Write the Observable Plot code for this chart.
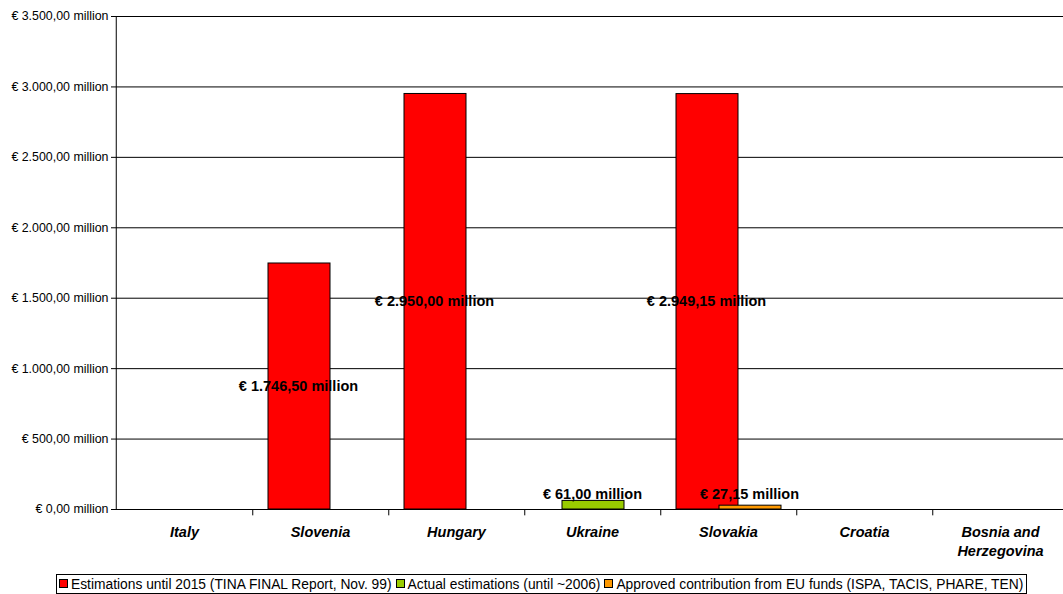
<!DOCTYPE html>
<html>
<head>
<meta charset="utf-8">
<script src="https://cdn.jsdelivr.net/npm/d3@7"></script>
<script src="https://cdn.jsdelivr.net/npm/@observablehq/plot@0.6"></script>
<style>
  html, body { margin: 0; padding: 0; background: #fff; overflow: hidden; }
  #wrap { position: relative; width: 1063px; height: 594px; font-family: "Liberation Sans", Arial, sans-serif; }
  #legend { position: absolute; left: 56px; top: 574px; border: 1px solid #000; background: #fff;
            font-size: 13.8px; line-height: 17px; padding: 1px 3px 0px 2px; white-space: nowrap; color: #000; }
  .item { display: inline-block; margin-right: 4px; }
  .item:last-child { margin-right: 0; }
  .sw { display: inline-block; width: 7px; height: 7px; border: 1px solid #000; margin-right: 3px; vertical-align: 1px; }
</style>
</head>
<body>
<div id="wrap">
  <div id="chart"></div>
  <div id="legend"></div>
</div>
<script>
const countries = ["Italy", "Slovenia", "Hungary", "Ukraine", "Slovakia", "Croatia", "Bosnia and Herzegovina"];
const countryLabels = ["Italy", "Slovenia", "Hungary", "Ukraine", "Slovakia", "Croatia", "Bosnia and\nHerzegovina"];
const seriesNames = [
  "Estimations until 2015 (TINA FINAL Report, Nov. 99)",
  "Actual estimations (until ~2006)",
  "Approved contribution from EU funds (ISPA, TACIS, PHARE, TEN)"
];
const seriesColors = ["#FF0000", "#99CC00", "#FF9900"];
const estimations = [null, 1746.5, 2950, null, 2949.15, null, null];
const actual = [null, null, null, 61, null, null, null];
const approved = [null, null, null, null, 27.15, null, null];
const yTicks = [0, 500, 1000, 1500, 2000, 2500, 3000, 3500];

const locale = d3.formatLocale({decimal: ",", thousands: ".", grouping: [3], currency: ["€ ", ""]});
const num = locale.format(",.2f");
const fmt = v => "€ " + num(v) + " million";

function rows(values, s) {
  return countries.map((c, i) => ({country: c, value: values[i], series: s})).filter(d => d.value != null);
}
const est = rows(estimations, 0);
const act = rows(actual, 1);
const app = rows(approved, 2);

const step = 136.5;
const half = step / 2;
const x0 = 114.5;

const chart = Plot.plot({
  width: 1063,
  height: 570,
  marginLeft: 115,
  marginRight: 0,
  marginTop: 16,
  marginBottom: 61,
  style: {fontFamily: "'Liberation Sans', Arial, sans-serif", fontSize: "12.4px", color: "#000", background: "#fff", overflow: "visible"},
  x: {domain: countries, range: [x0, x0 + step * countries.length], paddingInner: 0.546, paddingOuter: 0.273, axis: null},
  y: {domain: [0, 3500], ticks: yTicks, tickFormat: fmt, tickSize: 4, tickPadding: 3, label: null},
  marks: [
    Plot.ruleY(yTicks, {stroke: "#000", strokeWidth: 1}),
    Plot.ruleX([countries[0]], {x: d => d, dx: -half, y1: 0, y2: 3500, stroke: "#000"}),
    Plot.ruleX(countries, {x: d => d, dx: half, y1: 0, y2: -45, stroke: "#000"}),
    Plot.barY(est, {x: "country", y: "value", fill: seriesColors[0], stroke: "#000", strokeWidth: 1, dx: -21}),
    Plot.barY(act, {x: "country", y: "value", fill: seriesColors[1], stroke: "#000", strokeWidth: 1, dx: 1}),
    Plot.barY(app, {x: "country", y: "value", fill: seriesColors[2], stroke: "#000", strokeWidth: 1, dx: 22}),
    Plot.text(est, {x: "country", y: d => d.value / 2, text: d => fmt(d.value), dx: -22, fontSize: 14.5, fontWeight: "bold", fill: "#000"}),
    Plot.text(act, {x: "country", y: 0, text: d => fmt(d.value), dx: 0, dy: -15, fontSize: 14.5, fontWeight: "bold", fill: "#000"}),
    Plot.text(app, {x: "country", y: 0, text: d => fmt(d.value), dx: 21, dy: -15, fontSize: 14.5, fontWeight: "bold", fill: "#000"}),
    Plot.text(countries, {x: d => d, y: 0, text: (d, i) => countryLabels[i], dy: 14, lineAnchor: "top", lineHeight: 1.3,
      fontSize: 14.5, fontWeight: "bold", fontStyle: "italic", fill: "#000"})
  ]
});
document.getElementById("chart").appendChild(chart);

const legend = document.getElementById("legend");
seriesNames.forEach((name, i) => {
  const item = document.createElement("span");
  item.className = "item";
  const sw = document.createElement("span");
  sw.className = "sw";
  sw.style.background = seriesColors[i];
  item.appendChild(sw);
  item.appendChild(document.createTextNode(name));
  legend.appendChild(item);
});
</script>
</body>
</html>
